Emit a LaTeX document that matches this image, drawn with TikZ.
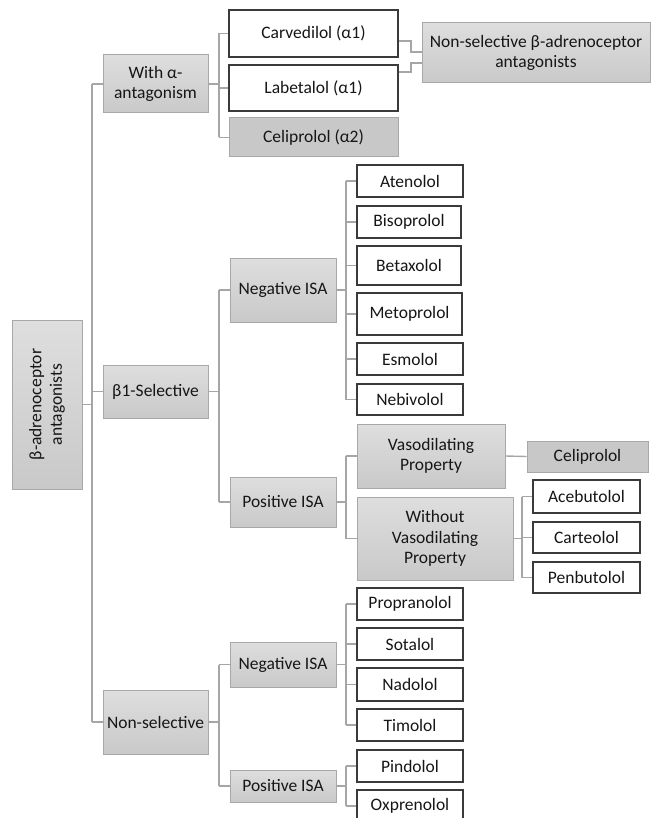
\documentclass[tikz,border=0pt]{standalone}
\usepackage{fontspec}
\setmainfont{Carlito}
\usetikzlibrary{calc}
\definecolor{conncol}{HTML}{A6A6A6}
\definecolor{graytop}{HTML}{DEDEDE}
\definecolor{graybot}{HTML}{C9C9C9}
\definecolor{grayedge}{HTML}{A8A8A8}
\definecolor{darkedge}{HTML}{3A3A3A}
\definecolor{txt}{HTML}{161616}
\definecolor{midgray}{HTML}{C8C8C8}
\tikzset{
  box/.style={inner sep=1pt, align=center, font=\fontsize{17.5}{20.5}\selectfont, text=txt},
  graybox/.style={box, draw=grayedge, line width=1pt, top color=graytop, bottom color=graybot},
  whitebox/.style={box, draw=darkedge, line width=1.8pt, fill=white},
  darkbox/.style={box, draw=grayedge, line width=1pt, fill=midgray},
  conn/.style={draw=conncol, line width=1.4pt},
  sz/.style 2 args={minimum width=#1pt, minimum height=#2pt},
}
\begin{document}
\begin{tikzpicture}[x=1pt,y=-1pt]
\useasboundingbox (0,0) rectangle (651,818);
\clip (0,0) rectangle (651,818);
% spine x positions
\coordinate (x0) at (92,0);
\coordinate (x1) at (219,0);
\coordinate (x2) at (346,0);
\coordinate (x3) at (522,0);
\coordinate (x4) at (411,0);
% root
\node[graybox, sz={70}{169}] (root) at (47,404.5) {};
\node[box, rotate=90] (rootlbl) at (root.center) {β-adrenoceptor\\antagonists};
% level 1
\node[graybox, sz={105}{58}] (withA) at (155.5,84) {With α-\\antagonism};
\node[graybox, sz={105}{53}] (b1) at (155.5,391.5) {β1-Selective};
\node[graybox, sz={105}{64}] (nonsel) at (155.5,722) {Non-selective};
% with alpha children
\node[whitebox, sz={169}{47}] (carv) at (313.5,33.5) {Carvedilol (α1)};
\node[whitebox, sz={169}{46}] (labe) at (313.5,88) {Labetalol (α1)};
\node[darkbox, sz={169}{39}] (celia) at (313.5,137.5) {Celiprolol (α2)};
\node[graybox, sz={228}{60}] (nsb) at (536,53) {Non-selective β-adrenoceptor\\antagonists};
% beta1 children
\node[graybox, sz={106}{64}] (negb) at (283,290) {Negative ISA};
\node[graybox, sz={106}{50}] (posb) at (283,502) {Positive ISA};
\node[whitebox, sz={106}{32}] (aten) at (410,181) {Atenolol};
\node[whitebox, sz={104}{32}] (biso) at (409,222) {Bisoprolol};
\node[whitebox, sz={104}{39}] (beta) at (409,265.5) {Betaxolol};
\node[whitebox, sz={105}{42}] (meto) at (409.5,314) {Metoprolol};
\node[whitebox, sz={106}{32}] (esmo) at (410,359) {Esmolol};
\node[whitebox, sz={106}{31}] (nebi) at (410,399.5) {Nebivolol};
\node[graybox, sz={148}{64}] (vaso) at (431,456) {Vasodilating\\Property};
\node[darkbox, sz={121}{31}] (cel) at (587.5,456.5) {Celiprolol};
\node[graybox, sz={156}{83}] (without) at (435,538.5) {Without\\Vasodilating\\Property};
\node[whitebox, sz={107}{33}] (aceb) at (586.5,496.5) {Acebutolol};
\node[whitebox, sz={107}{31}] (cart) at (586.5,537.5) {Carteolol};
\node[whitebox, sz={107}{31}] (penb) at (586.5,577.5) {Penbutolol};
% non-selective children
\node[graybox, sz={106}{45}] (negn) at (283,664.5) {Negative ISA};
\node[graybox, sz={106}{32}] (posn) at (283,786) {Positive ISA};
\node[whitebox, sz={106}{32}] (prop) at (410,604) {Propranolol};
\node[whitebox, sz={106}{32}] (sota) at (410,644) {Sotalol};
\node[whitebox, sz={106}{33}] (nado) at (410,684.5) {Nadolol};
\node[whitebox, sz={106}{32}] (timo) at (410,725) {Timolol};
\node[whitebox, sz={106}{32}] (pind) at (410,766) {Pindolol};
\node[whitebox, sz={106}{32}] (oxpr) at (410,806) {Oxprenolol};
% main spine
\draw[conn] (root.east) -- (root.east -| x0);
\draw[conn] (withA.west -| x0) -- (nonsel.west -| x0);
\foreach \c in {withA,b1,nonsel} \draw[conn] (\c.west -| x0) -- (\c.west);
% with alpha
\draw[conn] (withA.east) -- (withA.east -| x1);
\draw[conn] (carv.west -| x1) -- (celia.west -| x1);
\foreach \c in {carv,labe,celia} \draw[conn] (\c.west -| x1) -- (\c.west);
% bracket to non-selective beta box
\coordinate (cv) at ($(carv.south east)+(0,-17)$);
\coordinate (lb) at ($(labe.north east)+(0,8)$);
\coordinate (n1) at ($(nsb.west)+(0,-1)$);
\coordinate (n2) at ($(nsb.west)+(0,10)$);
\draw[conn] (cv) -- (cv -| x4) -- (n1 -| x4) -- (n1);
\draw[conn] (lb) -- (lb -| x4) -- (n2 -| x4) -- (n2);
% beta1
\draw[conn] (b1.east) -- (b1.east -| x1);
\draw[conn] (negb.west -| x1) -- (posb.west -| x1);
\foreach \c in {negb,posb} \draw[conn] (\c.west -| x1) -- (\c.west);
\draw[conn] (negb.east) -- (negb.east -| x2);
\draw[conn] (aten.west -| x2) -- (nebi.west -| x2);
\foreach \c in {aten,biso,beta,meto,esmo,nebi} \draw[conn] (\c.west -| x2) -- (\c.west);
\draw[conn] (posb.east) -- (posb.east -| x2);
\draw[conn] (vaso.west -| x2) -- (without.west -| x2);
\foreach \c in {vaso,without} \draw[conn] (\c.west -| x2) -- (\c.west);
\draw[conn] (vaso.east) -- (cel.west);
\draw[conn] (without.east) -- (without.east -| x3);
\draw[conn] (aceb.west -| x3) -- (penb.west -| x3);
\foreach \c in {aceb,cart,penb} \draw[conn] (\c.west -| x3) -- (\c.west);
% non-selective
\draw[conn] (nonsel.east) -- (nonsel.east -| x1);
\draw[conn] (negn.west -| x1) -- (posn.west -| x1);
\foreach \c in {negn,posn} \draw[conn] (\c.west -| x1) -- (\c.west);
\draw[conn] (negn.east) -- (negn.east -| x2);
\draw[conn] (prop.west -| x2) -- (timo.west -| x2);
\foreach \c in {prop,sota,nado,timo} \draw[conn] (\c.west -| x2) -- (\c.west);
\draw[conn] (posn.east) -- (posn.east -| x2);
\draw[conn] (pind.west -| x2) -- (oxpr.west -| x2);
\foreach \c in {pind,oxpr} \draw[conn] (\c.west -| x2) -- (\c.west);
\end{tikzpicture}
\end{document}
